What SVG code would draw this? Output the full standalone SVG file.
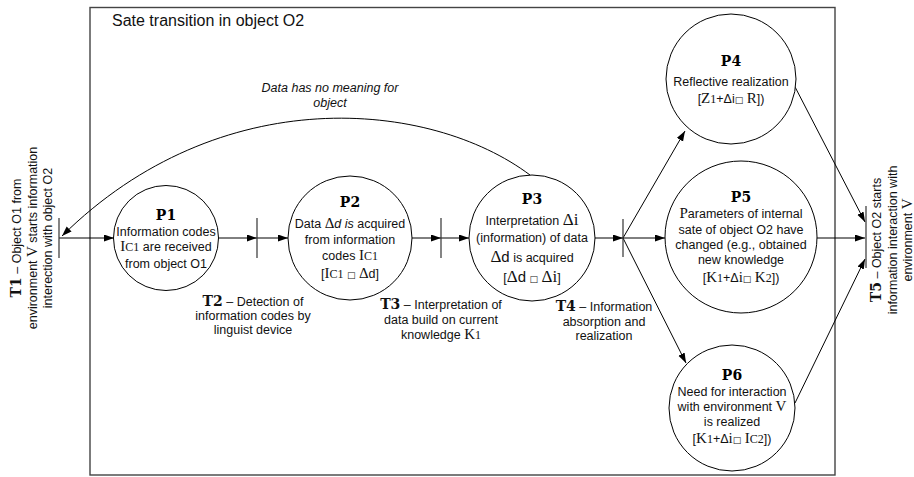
<svg xmlns="http://www.w3.org/2000/svg" width="914" height="477" viewBox="0 0 914 477">
<defs>
<marker id="ah" markerWidth="11" markerHeight="8" refX="10" refY="3.5" orient="auto" markerUnits="userSpaceOnUse">
<path d="M0,0 L10,3.5 L0,7 z" fill="#000"/>
</marker>
<style>
.t{font-family:"Liberation Sans",Arial,sans-serif;font-size:12.5px;fill:#111;text-anchor:middle}
.p{font-family:"DejaVu Serif",serif;font-weight:bold;font-size:14px;fill:#000;text-anchor:middle}
.s{font-family:"Liberation Serif",serif;font-size:15px}
.sm{font-family:"Liberation Serif",serif;font-size:12px}
.bx{font-family:"DejaVu Sans",sans-serif;font-size:9px}
.tb{font-family:"DejaVu Serif",serif;font-weight:bold;font-size:14px}
.c{fill:#fff;stroke:#000;stroke-width:1}
.l{fill:none;stroke:#000;stroke-width:1}
.a{fill:none;stroke:#000;stroke-width:1;marker-end:url(#ah)}
.bar{stroke:#333;stroke-width:1.2}
</style>
</defs>
<rect x="0" y="0" width="914" height="477" fill="#fff"/>
<rect id="frame" x="90" y="7.5" width="745" height="467.5" fill="none" stroke="#444" stroke-width="1.4"/>
<text x="112" y="26" style="font-family:'Liberation Sans',Arial,sans-serif;font-size:16px;fill:#111">Sate transition in object  O2</text>

<g id="connectors">
<line class="a" x1="59" y1="238" x2="114" y2="238"/>
<line class="a" x1="219" y1="238" x2="257" y2="238"/>
<line class="a" x1="257" y1="238" x2="288" y2="238"/>
<line class="a" x1="412" y1="238" x2="441" y2="238"/>
<line class="a" x1="441" y1="238" x2="469" y2="238"/>
<line class="a" x1="595" y1="238" x2="623" y2="238"/>
<line class="a" x1="623" y1="238" x2="665" y2="238"/>
<line class="a" x1="623" y1="238" x2="685" y2="131"/>
<line class="a" x1="623" y1="238" x2="686" y2="363"/>
<line class="a" x1="793" y1="83" x2="865" y2="222"/>
<line class="a" x1="817" y1="238" x2="865" y2="238"/>
<line class="a" x1="795" y1="403" x2="865" y2="259"/>
<path class="a" d="M530,175 C430,100 220,80 62,236"/>
</g>

<g id="bars">
<line class="bar" x1="59" y1="218" x2="59" y2="258"/>
<line class="bar" x1="257" y1="218" x2="257" y2="258"/>
<line class="bar" x1="441" y1="218" x2="441" y2="258"/>
<line class="bar" x1="623" y1="219" x2="623" y2="257"/>
<line class="bar" x1="866" y1="206" x2="866" y2="268"/>
</g>

<g id="arc-label">
<text class="t" x="330" y="92" style="font-style:italic">Data has no meaning for</text>
<text class="t" x="330" y="107" style="font-style:italic">object</text>
</g>

<g id="P1">
<circle class="c" cx="166" cy="238" r="52.5"/>
<text class="p" x="166" y="220">P1</text>
<text class="t" x="166" y="235.5">Information codes</text>
<text class="t" x="166" y="251"><tspan class="s">I</tspan><tspan class="sm">C1</tspan> are received</text>
<text class="t" x="166" y="267.5">from object O1</text>
</g>

<g id="P2">
<circle class="c" cx="350" cy="238" r="62"/>
<text class="p" x="350" y="207">P2</text>
<text class="t" x="350" y="228">Data <tspan class="s">Δ</tspan><tspan style="font-style:italic">d</tspan> <tspan style="font-style:italic">is</tspan> acquired</text>
<text class="t" x="350" y="244">from information</text>
<text class="t" x="350" y="260">codes <tspan class="s">I</tspan><tspan class="sm">C1</tspan></text>
<text class="t" x="350" y="278">[<tspan class="s">I</tspan><tspan class="sm">C1</tspan> <tspan class="bx">□</tspan>  <tspan class="s">Δ</tspan>d]</text>
</g>

<g id="P3">
<circle class="c" cx="532" cy="238" r="63"/>
<text class="p" x="532" y="204">P3</text>
<text class="t" x="532" y="225">Interpretation <tspan class="s" style="font-size:17px">Δi</tspan></text>
<text class="t" x="532" y="242">(information) of data</text>
<text class="t" x="532" y="262"><tspan class="s" style="font-size:17px">Δ</tspan><tspan style="font-size:15px">d</tspan> is acquired</text>
<text class="t" x="532" y="282">[<tspan class="s" style="font-size:17px">Δ</tspan><tspan style="font-size:15px">d</tspan> <tspan class="bx">□</tspan>  <tspan class="s" style="font-size:17px">Δi</tspan>]</text>
</g>

<g id="P4">
<circle class="c" cx="731" cy="79" r="65"/>
<text class="p" x="731" y="66">P4</text>
<text class="t" x="731" y="86">Reflective realization</text>
<text class="t" x="731" y="103">[<tspan class="s">Z</tspan><tspan class="sm">1</tspan>+Δi<tspan class="bx">□</tspan> <tspan class="s">R</tspan>])</text>
</g>

<g id="P5">
<circle class="c" cx="741" cy="237" r="76"/>
<text class="p" x="741" y="202">P5</text>
<text class="t" x="741" y="218"><tspan class="s">P</tspan>arameters of internal</text>
<text class="t" x="741" y="234">sate of object O2 have</text>
<text class="t" x="741" y="249">changed (e.g., obtained</text>
<text class="t" x="741" y="264">new knowledge</text>
<text class="t" x="741" y="282">[<tspan class="s">K</tspan><tspan class="sm">1</tspan>+Δ<tspan class="s">i</tspan><tspan class="bx">□</tspan>  <tspan class="s">K</tspan><tspan class="sm">2</tspan>])</text>
</g>

<g id="P6">
<circle class="c" cx="732" cy="408" r="63"/>
<text class="p" x="732" y="380">P6</text>
<text class="t" x="732" y="395.5">Need for interaction</text>
<text class="t" x="732" y="411">with environment <tspan class="s">V</tspan></text>
<text class="t" x="732" y="425.5">is realized</text>
<text class="t" x="732" y="443">[<tspan class="s">K</tspan><tspan class="sm">1</tspan>+Δ<tspan class="s">i</tspan><tspan class="bx">□</tspan>  <tspan class="s">I</tspan><tspan class="sm">C2</tspan>])</text>
</g>

<g id="T1">
<g transform="translate(0,238) rotate(-90)">
<text class="t" x="0" y="21"><tspan class="tb">T1</tspan> – Object O1 from</text>
<text class="t" x="0" y="37">environment <tspan class="s">V</tspan> starts information</text>
<text class="t" x="0" y="52">interection with object O2</text>
</g>
</g>

<g id="T2">
<text class="t" x="253" y="306"><tspan class="tb">T2</tspan> – Detection of</text>
<text class="t" x="253" y="320">information codes  by</text>
<text class="t" x="253" y="334">linguist device</text>
</g>

<g id="T3">
<text class="t" x="441" y="309"><tspan class="tb">T3</tspan> – Interpretation of</text>
<text class="t" x="441" y="324">data build on current</text>
<text class="t" x="441" y="339">knowledge  <tspan class="s">K</tspan><tspan class="sm">1</tspan></text>
</g>

<g id="T4">
<text class="t" x="604" y="311"><tspan class="tb">T4</tspan> – Information</text>
<text class="t" x="604" y="326">absorption and</text>
<text class="t" x="604" y="340">realization</text>
</g>

<g id="T5">
<g transform="translate(0,240) rotate(-90)">
<text class="t" x="0" y="881"><tspan class="tb">T5</tspan> – Object O2 starts</text>
<text class="t" x="0" y="897">information interaction with</text>
<text class="t" x="0" y="912">environment <tspan class="s">V</tspan></text>
</g>
</g>
</svg>
